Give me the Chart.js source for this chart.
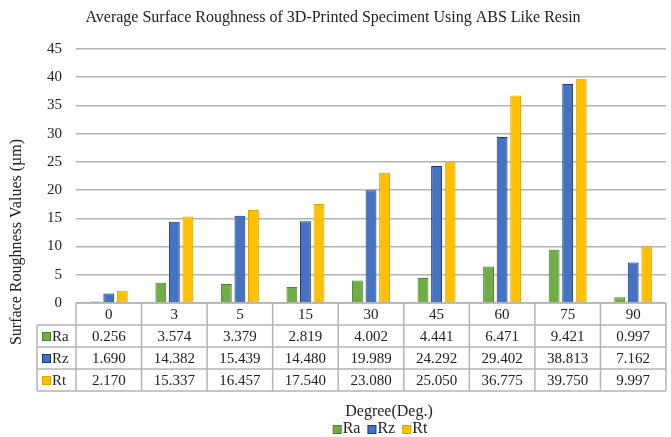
<!DOCTYPE html>
<html>
<head>
<meta charset="utf-8">
<script src="https://cdn.jsdelivr.net/npm/chart.js@4"></script>
<style>
  html, body { margin: 0; padding: 0; background: #fff; }
  #wrap { width: 671px; height: 437px; }
</style>
</head>
<body>
<div id="wrap"><canvas id="roughChart"></canvas></div>
<script>
const degrees = ['0', '3', '5', '15', '30', '45', '60', '75', '90'];
const raValues = [0.256, 3.574, 3.379, 2.819, 4.002, 4.441, 6.471, 9.421, 0.997];
const rzValues = [1.690, 14.382, 15.439, 14.480, 19.989, 24.292, 29.402, 38.813, 7.162];
const rtValues = [2.170, 15.337, 16.457, 17.540, 23.080, 25.050, 36.775, 39.750, 9.997];

const serif = 'Liberation Serif';
const gridGray = '#b4b4b4';
const textColor = '#222';

// data table under the x axis, uses the x scale so columns line up with bars
const dataTable = {
  id: 'dataTable',
  afterDraw(chart) {
    const ctx = chart.ctx;
    const area = chart.chartArea;
    const x = chart.scales.x;
    const colW = (area.right - area.left) / degrees.length;
    const rowH = 22;
    const top = area.bottom;
    const labelLeft = 37;
    const rows = chart.data.datasets;

    ctx.save();
    ctx.strokeStyle = gridGray;
    ctx.lineWidth = 1.5;

    // horizontal lines
    ctx.beginPath();
    ctx.moveTo(area.left, top);
    ctx.lineTo(area.right, top);
    for (let r = 1; r <= rows.length + 1; r++) {
      const y = top + r * rowH;
      ctx.moveTo(labelLeft, y);
      ctx.lineTo(area.right, y);
    }
    // vertical lines
    for (let c = 0; c <= degrees.length; c++) {
      const xx = area.left + c * colW;
      ctx.moveTo(xx, top);
      ctx.lineTo(xx, top + (rows.length + 1) * rowH);
    }
    ctx.moveTo(labelLeft, top + rowH);
    ctx.lineTo(labelLeft, top + (rows.length + 1) * rowH);
    ctx.stroke();

    ctx.fillStyle = textColor;
    ctx.font = '15px "' + serif + '"';
    ctx.textAlign = 'center';
    ctx.textBaseline = 'middle';
    degrees.forEach((d, i) => {
      ctx.fillText(d, x.getPixelForValue(i), top + rowH / 2 + 1);
    });

    rows.forEach((ds, r) => {
      const yMid = top + (r + 1) * rowH + rowH / 2 + 1;
      ds.data.forEach((v, i) => {
        ctx.fillStyle = textColor;
        ctx.fillText(v.toFixed(3), x.getPixelForValue(i), yMid);
      });
      // legend key + series name
      ctx.fillStyle = ds.backgroundColor;
      ctx.strokeStyle = ds.borderColor;
      ctx.lineWidth = 1;
      ctx.fillRect(labelLeft + 5.5, yMid - 4.5, 8, 8);
      ctx.strokeRect(labelLeft + 5.5, yMid - 4.5, 8, 8);
      ctx.fillStyle = textColor;
      ctx.textAlign = 'left';
      ctx.fillText(ds.label, labelLeft + 15, yMid);
      ctx.textAlign = 'center';
    });

    // y axis title, centred over plot and table like the original
    ctx.save();
    ctx.translate(17, 242);
    ctx.rotate(-Math.PI / 2);
    ctx.font = '16px "' + serif + '"';
    ctx.fillStyle = textColor;
    ctx.fillText('Surface Roughness Values (\u00b5m)', 0, 0);
    ctx.restore();

    // x axis title
    ctx.font = '16px "' + serif + '"';
    ctx.fillStyle = textColor;
    ctx.fillText('Degree(Deg.)', 389, 412);

    // legend row
    ctx.font = '16px "' + serif + '"';
    ctx.textAlign = 'left';
    const box = 8, gapIn = 2, gapOut = 7;
    let total = 0;
    rows.forEach((ds, r) => {
      total += box + gapIn + ctx.measureText(ds.label).width;
      if (r < rows.length - 1) total += gapOut;
    });
    let lx = 380 - total / 2;
    const ly = 429;
    rows.forEach(ds => {
      ctx.fillStyle = ds.backgroundColor;
      ctx.strokeStyle = ds.borderColor;
      ctx.lineWidth = 1;
      ctx.fillRect(lx + 0.5, ly - 3.5, box, box);
      ctx.strokeRect(lx + 0.5, ly - 3.5, box, box);
      lx += box + gapIn;
      ctx.fillStyle = textColor;
      ctx.fillText(ds.label, lx, ly);
      lx += ctx.measureText(ds.label).width + gapOut;
    });

    ctx.restore();
  }
};

new Chart(document.getElementById('roughChart'), {
  type: 'bar',
  data: {
    labels: degrees,
    datasets: [
      { label: 'Ra', data: raValues, backgroundColor: '#70AD47', borderColor: '#4E7F30', borderWidth: 1 },
      { label: 'Rz', data: rzValues, backgroundColor: '#4472C4', borderColor: '#203864', borderWidth: 1 },
      { label: 'Rt', data: rtValues, backgroundColor: '#FFC000', borderColor: '#D9A300', borderWidth: 1 }
    ]
  },
  options: {
    responsive: true,
    maintainAspectRatio: false,
    animation: false,
    categoryPercentage: 0.62,
    barPercentage: 0.8,
    layout: { padding: { left: 0, right: 5, top: 0, bottom: 0 } },
    plugins: {
      title: {
        display: true,
        text: 'Average Surface Roughness of 3D-Printed Speciment Using ABS Like Resin',
        color: textColor,
        font: { family: serif, size: 16, weight: 'normal' },
        padding: { top: 8, bottom: 21.8 }
      },
      legend: { display: false },
      tooltip: { enabled: false }
    },
    scales: {
      x: {
        ticks: { display: false },
        grid: { display: false },
        border: { display: false },
        afterFit(scale) { scale.height = 134; }
      },
      y: {
        min: 0,
        max: 45,
        ticks: {
          stepSize: 5,
          color: textColor,
          font: { family: serif, size: 15 },
          padding: 14
        },
        grid: { color: gridGray, lineWidth: 1.5, drawTicks: false },
        border: { display: false },
        afterFit(scale) { scale.width = 76; }
      }
    }
  },
  plugins: [dataTable]
});
</script>
</body>
</html>
